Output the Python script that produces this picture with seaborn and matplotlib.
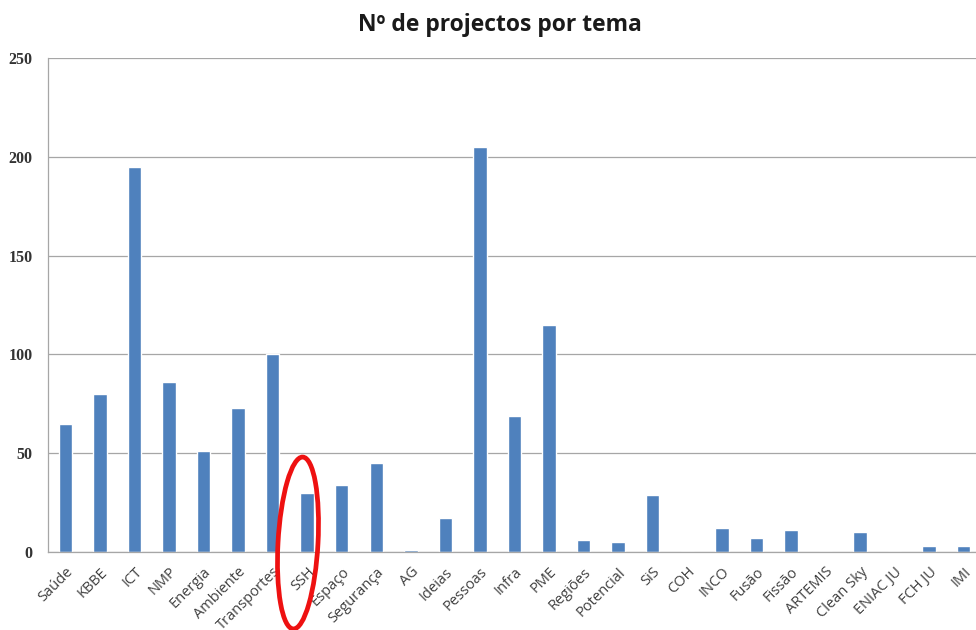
import numpy as np
import pandas as pd
import seaborn as sns
import matplotlib.pyplot as plt
from matplotlib.patches import Ellipse

temas = ['Saúde', 'KBBE', 'ICT', 'NMP', 'Energia', 'Ambiente', 'Transportes', 'SSH',
         'Espaço', 'Segurança', 'AG', 'Ideias', 'Pessoas', 'Infra', 'PME', 'Regiões',
         'Potencial', 'SiS', 'COH', 'INCO', 'Fusão', 'Fissão', 'ARTEMIS', 'Clean Sky',
         'ENIAC JU', 'FCH JU', 'IMI']
projectos = [65, 80, 195, 86, 51, 73, 100, 30, 34, 45, 1, 17, 205, 69, 115, 6,
             5, 29, 0, 12, 7, 11, 0, 10, 0, 3, 3]
y_ticks = [0, 50, 100, 150, 200, 250]

df = pd.DataFrame({'tema': temas, 'n': projectos})

sns.set_style('white')
plt.rcParams['font.family'] = ['Open Sans', 'DejaVu Sans']

fig = plt.figure(figsize=(9.76, 6.30), dpi=100)
ax = fig.add_axes([48 / 976, 1 - 552 / 630, (981 - 48) / 976, 494 / 630])

sns.barplot(data=df, x='tema', y='n', color='#4F81BD', width=0.39, saturation=1, ax=ax)

n = len(temas)
ax.set_xlim(-0.5, n - 0.5)
ax.set_ylim(0, 250)
ax.set_yticks(y_ticks)
ax.set_yticklabels([str(v) for v in y_ticks], family='Liberation Serif', fontweight='bold',
                   fontsize=11.5, color='#333333')
ax.yaxis.grid(True, color='#a6a6a6', linewidth=0.9)
ax.set_axisbelow(True)

ax.set_xticks(range(n))
ax.set_xticklabels(temas, rotation=45, ha='right', rotation_mode='anchor', fontsize=10.5,
                   color='#404040')
ax.set_xticks(np.arange(-0.5, n, 1), minor=True)
ax.tick_params(axis='x', which='major', length=0, pad=9)
ax.tick_params(axis='x', which='minor', length=5, color='#a6a6a6', width=0.9)
ax.tick_params(axis='y', length=5, color='#a6a6a6', width=0.9, pad=6)

for s in ['top', 'right']:
    ax.spines[s].set_visible(False)
for s in ['left', 'bottom']:
    ax.spines[s].set_color('#a6a6a6')
    ax.spines[s].set_linewidth(0.9)

ax.set_xlabel('')
ax.set_ylabel('')
fig.text(500 / 976, 1 - 25 / 630, 'Nº de projectos por tema', ha='center', va='center',
         fontsize=16.5, fontweight='bold', color='#1a1a1a')

# red circle highlighting SSH
ell = Ellipse((298 / 976, 1 - 543 / 630), 40 / 976, 172 / 630, transform=fig.transFigure,
              fill=False, edgecolor='#ee1111', linewidth=3.4, angle=-2)
fig.patches.append(ell)

fig.savefig('out.png', dpi=100)
